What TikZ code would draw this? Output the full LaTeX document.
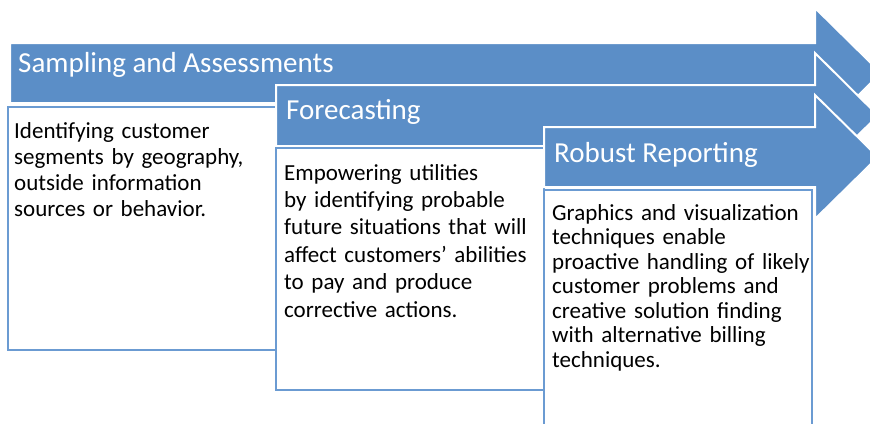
\documentclass[tikz,border=0pt]{standalone}
\usepackage{fontspec}
\setmainfont{Carlito}
\usepackage{xcolor}
\usepackage{tikz}
\usetikzlibrary{positioning}

\definecolor{stageblue}{HTML}{5B8EC7}
\definecolor{boxblue}{HTML}{6B9BD2}

\begin{document}
\begin{tikzpicture}[x=1pt, y=-1pt,
    stage/.style={fill=stageblue, draw=white, line width=2pt, line join=miter},
    descbox/.style={fill=white, draw=boxblue, line width=2pt},
    stagetitle/.style={font=\fontsize{29}{33}\selectfont, text=white, inner sep=0pt, anchor=base west},
    desc/.style={align=left, text width=262pt, inner sep=0pt, anchor=base west}]
  \def\hx{815}
  \useasboundingbox (0,0) rectangle (870,423);
  \clip (0,0) rectangle (870,423);

  % first stage
  \filldraw[stage] (10,43) -- (\hx,43) -- (\hx,8) -- (881,73) -- (\hx,138) -- (\hx,103) -- (10,103) -- cycle;
  \node[stagetitle] (samp) at (18,72) {Sampling and Assessments};
  \draw[descbox] (8,107) rectangle (276,350);
  \node[desc, font=\fontsize{23}{26}\selectfont] (sampdesc) at (14,138)
    {Identifying customer\\segments by geography,\\outside information\\sources or behavior.};

  % second stage
  \filldraw[stage] (276,85) -- (\hx,85) -- (\hx,53) -- (878,115.5) -- (\hx,178) -- (\hx,146) -- (276,146) -- cycle;
  \node[stagetitle] (fore) at (286,119) {Forecasting};
  \draw[descbox] (276,148) rectangle (544,390);
  \node[desc, font=\fontsize{23}{27.4}\selectfont] (foredesc) at (284,180)
    {Empowering utilities\\by identifying probable\\future situations that will\\affect customers’ abilities\\to pay and produce\\corrective actions.};

  % third stage
  \filldraw[stage] (544,127) -- (\hx,127) -- (\hx,95) -- (878,157) -- (\hx,219) -- (\hx,187) -- (544,187) -- cycle;
  \node[stagetitle] (rep) at (554,162) {Robust Reporting};
  \draw[descbox] (544,190) rectangle (812,440);
  \node[desc, font=\fontsize{23}{24.5}\selectfont] (repdesc) at (552,220)
    {Graphics and visualization\\techniques enable\\proactive handling of likely\\customer problems and\\creative solution finding\\with alternative billing\\techniques.};
\end{tikzpicture}
\end{document}
